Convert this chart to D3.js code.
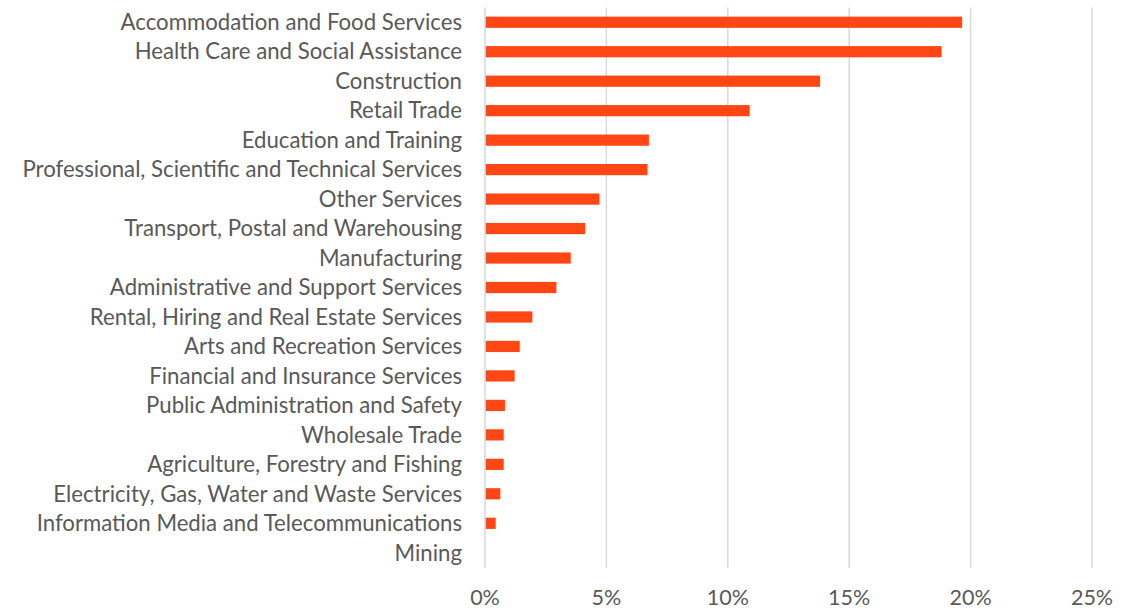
<!DOCTYPE html>
<html><head><meta charset="utf-8">
<script src="https://cdn.jsdelivr.net/npm/d3@7"></script>
<style>body{margin:0;background:#fff}svg{display:block}</style>
</head><body>
<svg id="c" width="1138" height="610"></svg>
<script>
const categories = ["Accommodation and Food Services","Health Care and Social Assistance","Construction","Retail Trade","Education and Training","Professional, Scientific and Technical Services","Other Services","Transport, Postal and Warehousing","Manufacturing","Administrative and Support Services","Rental, Hiring and Real Estate Services","Arts and Recreation Services","Financial and Insurance Services","Public Administration and Safety","Wholesale Trade","Agriculture, Forestry and Fishing","Electricity, Gas, Water and Waste Services","Information Media and Telecommunications","Mining"];
const values = [19.65,18.8,13.8,10.9,6.75,6.69,4.71,4.12,3.53,2.94,1.95,1.43,1.22,0.82,0.77,0.77,0.63,0.44,0.03];
const tickValues = [0,5,10,15,20,25];

const svg = d3.select("#c");
const font = "Lato, 'Open Sans', sans-serif";
const x = d3.scaleLinear().domain([0,25]).range([485,1092]);
const y = d3.scaleBand().domain(categories).range([7.5,567.5]).paddingInner(0.62).paddingOuter(0.31);

svg.append("g").selectAll("line").data(tickValues).join("line")
  .attr("x1",d=>x(d)).attr("x2",d=>x(d)).attr("y1",7.5).attr("y2",568)
  .attr("stroke","#d9d9d9").attr("stroke-width",1.5);

svg.append("g").selectAll("rect").data(values).join("rect")
  .attr("x",x(0)+0.75).attr("y",(d,i)=>y(categories[i]))
  .attr("width",d=>Math.max(0,x(d)-x(0)-0.75)).attr("height",y.bandwidth())
  .attr("fill","#FF4615");

svg.append("g").selectAll("text").data(categories).join("text")
  .attr("x",462).attr("y",d=>y(d)+y.bandwidth()/2).attr("dy","0.35em")
  .attr("text-anchor","end").attr("font-family",font).attr("font-size",22.2)
  .attr("fill","#595959").text(d=>d);

svg.append("g").selectAll("text").data(tickValues).join("text")
  .attr("x",d=>x(d)).attr("y",605).attr("dy",0)
  .attr("text-anchor","middle").attr("font-family",font).attr("font-size",21.5)
  .attr("fill","#595959").text(d=>d+"%");
</script>
</body></html>
